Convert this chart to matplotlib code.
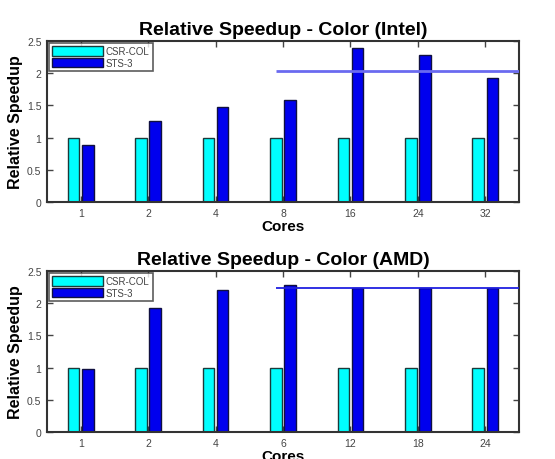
import matplotlib
matplotlib.use("Agg")
import matplotlib.pyplot as plt
import numpy as np

plt.rcParams['font.family'] = ['Liberation Sans', 'DejaVu Sans']

intel_cores = ['1', '2', '4', '8', '16', '24', '32']
intel_csr = [1, 1, 1, 1, 1, 1, 1]
intel_sts = [0.89, 1.26, 1.47, 1.59, 2.39, 2.28, 1.93]
intel_ref = 2.03

amd_cores = ['1', '2', '4', '6', '12', '18', '24']
amd_csr = [1, 1, 1, 1, 1, 1, 1]
amd_sts = [0.98, 1.92, 2.20, 2.28, 2.24, 2.24, 2.24]
amd_ref = 2.24

ref_start = 3.9
series_names = ['CSR-COL', 'STS-3']

fig = plt.figure(figsize=(5.55, 4.6), dpi=100)

def panel(rect, title, cores, csr, sts, ref, ref_color, ref_lw):
    ax = fig.add_axes(rect)
    x = np.arange(1, len(cores) + 1)
    w = 0.17
    ax.bar(x - 0.105, csr, w, color='#00FFFF', edgecolor='#1a3a3a', linewidth=1.0,
           label=series_names[0], zorder=2)
    ax.bar(x + 0.105, sts, w, color='#0000EE', edgecolor='#101040', linewidth=1.0,
           label=series_names[1], zorder=2)
    ax.hlines(ref, ref_start, len(cores) + 0.5, color=ref_color, linewidth=ref_lw, zorder=3)
    ax.set_xlim(0.5, len(cores) + 0.5)
    ax.set_ylim(0, 2.5)
    ax.set_xticks(x)
    ax.set_xticklabels(cores)
    ax.set_yticks([0, 0.5, 1, 1.5, 2, 2.5])
    ax.set_yticklabels(['0', '0.5', '1', '1.5', '2', '2.5'])
    ax.tick_params(direction='in', top=True, right=True, labelsize=7.5, colors='#444444',
                   length=4, width=1, pad=4)
    for s in ax.spines.values():
        s.set_color('#333333')
        s.set_linewidth(1.5)
    ax.set_title(title, fontsize=14, fontweight='bold', pad=5)
    ax.set_xlabel('Cores', fontsize=11, fontweight='bold', labelpad=1)
    ax.set_ylabel('Relative Speedup', fontsize=11.5, fontweight='bold', labelpad=3)
    leg = ax.legend(loc='upper left', fontsize=7, frameon=True, fancybox=False,
                    borderpad=0.35, handlelength=5.2, handleheight=1.1, labelspacing=0.15,
                    handletextpad=0.3, borderaxespad=0.2)
    leg.get_frame().set_edgecolor('#333333')
    leg.get_frame().set_linewidth(1.2)
    for t in leg.get_texts():
        t.set_color('#444444')
    return ax

W, H = 555, 460
panel([47 / W, 1 - 203 / H, (519 - 47) / W, 161 / H], 'Relative Speedup - Color (Intel)',
      intel_cores, intel_csr, intel_sts, intel_ref, '#6a6af0', 2.0)
panel([47 / W, 1 - 433 / H, (519 - 47) / W, 161 / H], 'Relative Speedup - Color (AMD)',
      amd_cores, amd_csr, amd_sts, amd_ref, '#2020e0', 1.3)

fig.savefig('out.png', dpi=100)
